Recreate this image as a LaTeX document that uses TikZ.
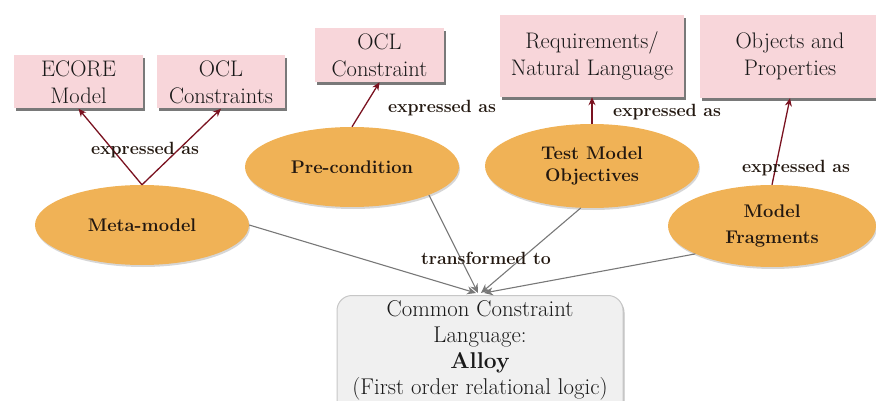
\documentclass[tikz,border=0pt]{standalone}
\usetikzlibrary{shapes.geometric,arrows.meta,shadows}
\definecolor{boxpink}{RGB}{248,214,218}
\definecolor{ellorange}{RGB}{240,178,86}
\definecolor{arrred}{RGB}{122,18,32}
\definecolor{arrgrey}{RGB}{120,120,120}
\definecolor{commonfill}{RGB}{240,240,240}
\definecolor{txtdark}{RGB}{35,24,16}
\begin{document}
\begin{tikzpicture}[x=1pt,y=-1pt,
  pinkbox/.style={rectangle, fill=boxpink, draw=none, text=black!90, align=center,
    font=\fontsize{22.5}{27}\selectfont, inner sep=0pt,
    drop shadow={shadow xshift=1.5pt, shadow yshift=-3pt, fill=black!75, opacity=.7}},
  ell/.style={ellipse, fill=ellorange, draw=none, text=txtdark, align=center,
    font=\bfseries\fontsize{18.3}{22}\selectfont, inner sep=0pt,
    drop shadow={shadow xshift=1pt, shadow yshift=-2pt, fill=black!40, opacity=.4}},
  commonbox/.style={rectangle, rounded corners=15pt, fill=commonfill, draw=black!22,
    line width=1pt, text=black!90, align=center, font=\fontsize{22.8}{26}\selectfont,
    inner sep=0pt,
    drop shadow={shadow xshift=1.5pt, shadow yshift=-2pt, fill=black!50, opacity=.5}},
  lbl/.style={text=txtdark, font=\bfseries\fontsize{17.7}{20}\selectfont, inner sep=0pt},
  redarr/.style={draw=arrred, line width=1.3pt, -{Stealth[length=8pt,width=7pt]}},
  greyarr/.style={draw=arrgrey, line width=1.1pt, -{Stealth[length=9pt,width=8pt]}}
]
\useasboundingbox (0,0) rectangle (876,401);

% top boxes
\node[pinkbox, minimum width=129pt, minimum height=53pt] (ecore) at (78.5,82) {ECORE\\Model};
\node[pinkbox, minimum width=128pt, minimum height=53pt] (oclc) at (221,82) {OCL\\Constraints};
\node[pinkbox, minimum width=129pt, minimum height=54pt] (oclpre) at (379.5,55) {OCL\\Constraint};
\node[pinkbox, minimum width=184pt, minimum height=82pt] (req) at (592,56) {Requirements/\\Natural Language};
\node[pinkbox, minimum width=180pt, minimum height=83pt] (obj) at (790,56.5) {Objects and\\Properties};

% ellipses
\node[ell, minimum width=214pt, minimum height=80pt] (meta) at (142,225) {Meta-model};
\node[ell, minimum width=214pt, minimum height=80pt] (pre) at (352,167) {Pre-condition};
\node[ell, minimum width=214pt, minimum height=84pt, font=\bfseries\fontsize{18.3}{21.5}\selectfont] (tmo) at (592,166) {Test Model\\Objectives};
\node[ell, minimum width=208pt, minimum height=82pt, font=\bfseries\fontsize{18.3}{26}\selectfont] (mf) at (772,226) {Model\\Fragments};

% common box (runs off the bottom edge, as in the reference)
\node[commonbox, minimum width=286pt, minimum height=125pt, text depth=21pt, anchor=north] (common) at (480,295)
  {Common Constraint\\Language:\\\textbf{Alloy}\\(First order relational logic)};

% red arrows
\draw[redarr] (meta.north) -- (ecore.south);
\draw[redarr] (meta.north) -- (oclc.south);
\draw[redarr] (pre.north) -- (oclpre.south);
\draw[redarr] (tmo.north) -- (req.south);
\draw[redarr] (mf.north) -- (obj.south);

% grey arrows
\draw[greyarr] (meta.east) -- ([xshift=-4pt,yshift=2pt]common.north);
\draw[greyarr] (pre.-20) -- ([xshift=-2pt,yshift=2pt]common.north);
\draw[greyarr] (tmo.-105) -- ([xshift=1pt,yshift=2pt]common.north);
\draw[greyarr] (mf.-160) -- ([xshift=4pt,yshift=2pt]common.north);

% labels
\node[lbl] (l1) at (145,150) {expressed as};
\node[lbl] (l2) at (442,108) {expressed as};
\node[lbl] (l3) at (667,112) {expressed as};
\node[lbl] (l4) at (796,168) {expressed as};
\node[lbl] (l5) at (486,258) {transformed to};
\end{tikzpicture}
\end{document}
